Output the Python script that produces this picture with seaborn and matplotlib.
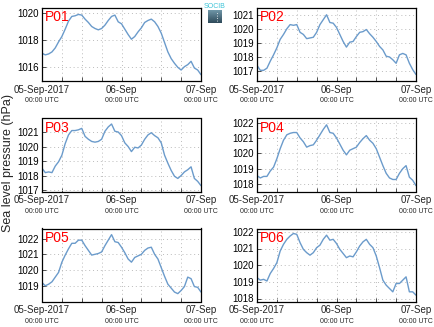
import numpy as np
import pandas as pd
import matplotlib
matplotlib.use("Agg")
import matplotlib.pyplot as plt
import matplotlib.transforms as mtransforms
import seaborn as sns

# Hourly sea level pressure (hPa), 05-Sep-2017 00:00 UTC to 07-Sep-2017 00:00 UTC
hours = list(range(49))

p01 = [1017.0, 1016.88, 1016.95, 1017.1, 1017.4, 1017.85, 1018.25, 1018.8, 1019.4, 1019.75,
       1019.8, 1019.9, 1019.85, 1019.55, 1019.3, 1019.0, 1018.85, 1018.75, 1018.85, 1019.1,
       1019.45, 1019.75, 1019.85, 1019.35, 1019.2, 1018.8, 1018.4, 1018.05, 1018.25, 1018.6,
       1018.9, 1019.3, 1019.45, 1019.55, 1019.35, 1019.0, 1018.5, 1017.8, 1017.1, 1016.6,
       1016.25, 1015.95, 1015.75, 1016.0, 1016.15, 1016.4, 1015.9, 1015.75, 1015.4]
p02 = [1017.4, 1017.05, 1017.05, 1017.2, 1017.7, 1018.15, 1018.65, 1019.25, 1019.6, 1020.0,
       1020.3, 1020.25, 1020.3, 1019.75, 1019.6, 1019.3, 1019.35, 1019.4, 1019.75, 1020.3,
       1020.65, 1021.0, 1020.45, 1020.4, 1020.1, 1019.6, 1019.1, 1018.7, 1019.05, 1019.1,
       1019.45, 1019.75, 1019.8, 1019.95, 1019.65, 1019.4, 1019.1, 1018.75, 1018.5, 1018.05,
       1018.0, 1017.8, 1017.55, 1018.15, 1018.25, 1018.15, 1017.55, 1017.1, 1016.75]
p03 = [1018.5, 1018.2, 1018.25, 1018.2, 1018.65, 1018.95, 1019.4, 1020.2, 1020.8, 1021.1,
       1021.1, 1021.15, 1021.25, 1020.7, 1020.5, 1020.35, 1020.3, 1020.35, 1020.5, 1021.05,
       1021.35, 1021.55, 1021.05, 1021.0, 1020.75, 1020.25, 1020.0, 1019.65, 1019.95, 1019.9,
       1020.1, 1020.5, 1020.8, 1020.95, 1020.75, 1020.6, 1020.25, 1019.4, 1018.85, 1018.35,
       1017.95, 1017.8, 1018.0, 1018.25, 1018.4, 1018.6, 1017.8, 1017.6, 1017.3]
p04 = [1018.55, 1018.4, 1018.5, 1018.5, 1018.85, 1019.1, 1019.65, 1020.3, 1020.85, 1021.2,
       1021.3, 1021.35, 1021.35, 1021.0, 1020.75, 1020.4, 1020.5, 1020.55, 1020.85, 1021.2,
       1021.55, 1021.85, 1021.35, 1021.3, 1021.0, 1020.6, 1020.2, 1019.9, 1020.2, 1020.3,
       1020.4, 1020.7, 1020.95, 1021.15, 1020.85, 1020.65, 1020.3, 1019.75, 1019.2, 1018.7,
       1018.4, 1018.3, 1018.3, 1018.7, 1019.0, 1019.2, 1018.45, 1018.25, 1017.9]
p05 = [1019.2, 1019.0, 1019.1, 1019.25, 1019.55, 1019.85, 1020.5, 1020.95, 1021.35, 1021.7,
       1021.7, 1021.9, 1021.9, 1021.55, 1021.25, 1020.95, 1021.0, 1021.05, 1021.15, 1021.55,
       1021.9, 1022.25, 1021.8, 1021.75, 1021.45, 1021.1, 1020.7, 1020.5, 1020.8, 1020.9,
       1021.0, 1021.25, 1021.4, 1021.45, 1021.0, 1020.7, 1020.15, 1019.6, 1019.1, 1018.85,
       1018.6, 1018.5, 1018.7, 1018.95, 1019.55, 1019.45, 1018.95, 1018.9, 1018.6]
p06 = [1019.25, 1019.1, 1019.15, 1019.05, 1019.5, 1019.8, 1020.15, 1020.85, 1021.25, 1021.55,
       1021.75, 1021.9, 1021.85, 1021.35, 1020.95, 1020.75, 1020.6, 1020.75, 1021.05, 1021.2,
       1021.55, 1021.8, 1021.5, 1021.55, 1021.3, 1020.95, 1020.7, 1020.45, 1020.55, 1020.5,
       1020.8, 1021.15, 1021.4, 1021.55, 1021.25, 1021.05, 1020.55, 1019.85, 1019.1, 1018.8,
       1018.6, 1018.4, 1018.9, 1018.9, 1019.1, 1019.3, 1018.4, 1018.4, 1018.2]

stations = ["P01", "P02", "P03", "P04", "P05", "P06"]
series = [p01, p02, p03, p04, p05, p06]
y_limits = [(1014.93, 1020.38), (1016.29, 1021.48), (1016.9, 1021.93),
            (1017.52, 1022.26), (1018.0, 1022.64), (1017.82, 1022.2)]
y_ticks = [[1016, 1018, 1020], [1017, 1018, 1019, 1020, 1021],
           [1017, 1018, 1019, 1020, 1021], [1018, 1019, 1020, 1021, 1022],
           [1019, 1020, 1021, 1022], [1018, 1019, 1020, 1021, 1022]]
x_tick_hours = [0, 24, 48]
date_labels = ["05-Sep-2017", "06-Sep", "07-Sep"]
time_label = "00:00 UTC"

sns.set_theme(style="ticks")
plt.rcParams["font.family"] = ["Liberation Sans", "DejaVu Sans"]

fig = plt.figure(figsize=(4.34, 3.27), dpi=100)
W, H = 434, 327
col_left = [42, 257]
col_width = 159
row_top = [8, 118.5, 228.5]
row_height = 73

line_color = "#6b9bcb"

for i, (name, vals) in enumerate(zip(stations, series)):
    r, c = divmod(i, 2)
    ax = fig.add_axes([col_left[c] / W, 1 - (row_top[r] + row_height) / H,
                       col_width / W, row_height / H])
    df = pd.DataFrame({"hour": hours, "pressure": vals})
    sns.lineplot(data=df, x="hour", y="pressure", ax=ax, color=line_color,
                 linewidth=1.0)
    ax.set_xlim(0, 48)
    ax.set_ylim(*y_limits[i])
    ax.set_yticks(y_ticks[i])
    ax.set_yticklabels([str(t) for t in y_ticks[i]])
    ax.set_xticks(range(0, 49, 6))
    ax.set_xticklabels([])
    ax.grid(True, color="#bbbbbb", linestyle=(0, (1, 3)), linewidth=0.7)
    ax.tick_params(axis="both", direction="in", length=3, width=0.6,
                   colors="#333333", labelsize=7, labelcolor="black", pad=2)
    ax.set_xlabel("")
    ax.set_ylabel("")
    for sp in ax.spines.values():
        sp.set_color("black")
        sp.set_linewidth(0.9)
    trans = mtransforms.blended_transform_factory(ax.transData, ax.transAxes)
    for h, lab in zip(x_tick_hours, date_labels):
        ax.text(h, -0.05, lab, transform=trans, ha="center", va="top",
                fontsize=7, clip_on=False)
        ax.text(h, -0.22, time_label, transform=trans, ha="center", va="top",
                fontsize=5, clip_on=False)
    ax.text(0.015, 0.97, name, transform=ax.transAxes, ha="left", va="top",
            fontsize=10, color="red")

fig.text(8 / W, 0.5, "Sea level pressure (hPa)", rotation=90, ha="center",
         va="center", fontsize=9)

# small institutional logo between the top panels
logo = fig.add_axes([208 / W, 1 - 23 / H, 14 / W, 13 / H])
grad = np.linspace(0, 1, 50).reshape(-1, 1)
logo.imshow(grad, aspect="auto", cmap=matplotlib.colors.LinearSegmentedColormap.from_list(
    "logo", ["#6f97a8", "#2f4a5a"]), extent=(0, 1, 0, 1))
logo.plot([0.62, 0.62], [0.15, 0.95], color="white", linestyle=(0, (1, 2)), linewidth=0.6)
logo.set_xlim(0, 1)
logo.set_ylim(0, 1)
logo.axis("off")
fig.text(215 / W, 1 - 6.5 / H, "SOCIB", ha="center", va="center", fontsize=5,
         color="#3cc4d8")

fig.savefig("out.png", dpi=100)
